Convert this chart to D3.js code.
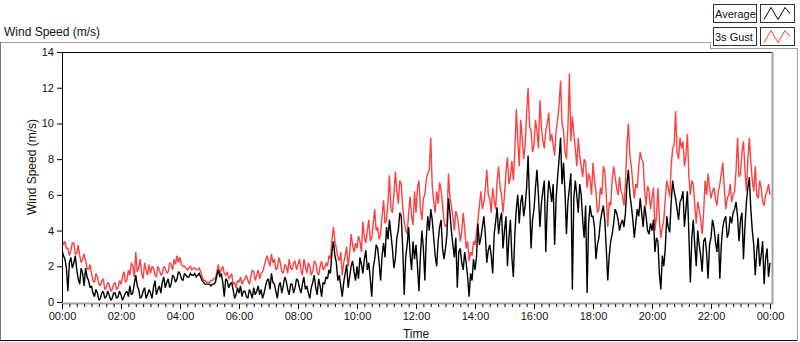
<!DOCTYPE html>
<html>
<head>
<meta charset="utf-8">
<title>Wind Speed (m/s)</title>
<script src="https://d3js.org/d3.v7.min.js"></script>
<style>
body { margin: 0; background: #fff; }
text { font-family: 'Liberation Sans', Arial, sans-serif; fill: #111; }
.tick text { font-size: 11px; }
</style>
</head>
<body>
<div id="my_dataviz"></div>
<script>
// one reading every 3 minutes, 00:00 -> 24:00 (20 per hour, one row per hour)
var stepMinutes = 3;

var average = [
  2.9, 2.6, 2.4, 1.9, 0.6, 2.2, 2.5, 1.9, 2.2, 2.6, 1.8, 1.3, 1.0, 1.9, 1.6, 0.9, 1.9, 1.4, 1.2, 0.8,
  0.9, 0.5, 0.3, 0.7, 0.5, 0.1, 0.2, 0.5, 0.6, 0.2, 0.3, 0.6, 0.4, 0.1, 0.2, 0.5, 0.5, 0.2, 0.3, 0.6,
  0.4, 0.1, 0.3, 0.5, 0.6, 0.3, 0.9, 0.4, 0.5, 1.0, 1.5, 0.9, 0.7, 0.2, 0.3, 0.6, 0.8, 0.2, 0.4, 0.7,
  0.5, 0.2, 0.8, 1.2, 0.4, 0.7, 0.9, 0.5, 1.1, 1.4, 0.8, 1.1, 1.3, 0.8, 1.0, 1.5, 1.4, 1.1, 1.3, 1.7,
  1.6, 1.3, 1.2, 1.6, 1.5, 1.4, 1.4, 1.6, 1.5, 1.5, 1.6, 1.4, 1.5, 1.6, 1.4, 1.2, 1.1, 1.0, 1.0, 1.0,
  1.0, 0.9, 1.0, 1.0, 1.1, 1.5, 1.8, 1.4, 1.6, 1.1, 0.3, 1.3, 1.2, 0.8, 1.0, 1.1, 0.7, 0.2, 0.4, 0.8,
  0.5, 0.9, 0.3, 0.6, 0.6, 0.3, 0.2, 0.7, 0.5, 0.2, 0.8, 0.4, 0.6, 0.9, 0.4, 0.7, 0.2, 0.5, 0.9, 1.2,
  1.3, 0.7, 1.6, 1.1, 1.0, 0.6, 0.2, 0.9, 1.1, 0.5, 0.9, 1.4, 1.2, 0.7, 0.4, 1.0, 1.0, 0.5, 0.8, 1.3,
  1.2, 0.8, 0.5, 1.0, 1.4, 0.7, 0.9, 0.5, 0.2, 0.8, 1.1, 1.5, 0.8, 0.4, 1.3, 0.9, 0.3, 1.1, 1.0, 1.4,
  1.3, 1.8, 1.6, 2.8, 3.4, 2.6, 2.2, 1.2, 1.5, 0.9, 0.3, 1.1, 1.6, 2.1, 0.8, 1.4, 2.0, 2.3, 1.7, 1.2,
  2.0, 1.3, 2.5, 2.1, 1.6, 2.4, 2.9, 1.8, 2.2, 1.3, 0.3, 1.9, 2.4, 3.2, 3.0, 2.2, 1.2, 2.6, 3.3, 2.5,
  4.2, 3.5, 4.6, 3.8, 3.0, 1.9, 2.4, 3.6, 4.0, 5.0, 4.8, 3.0, 0.4, 2.5, 3.2, 4.2, 2.7, 1.8, 3.4, 2.4,
  3.2, 2.0, 0.6, 2.6, 4.0, 3.0, 1.2, 3.6, 4.8, 4.0, 5.2, 4.6, 3.6, 2.6, 2.0, 3.4, 4.2, 4.6, 3.0, 2.4,
  3.0, 3.8, 5.8, 5.0, 4.0, 3.2, 2.5, 3.6, 0.8, 2.8, 3.0, 2.2, 1.8, 2.8, 2.2, 1.4, 0.3, 1.6, 1.2, 2.4,
  1.8, 2.5, 4.4, 3.2, 3.6, 4.2, 4.8, 3.8, 2.2, 2.9, 3.2, 2.6, 1.6, 3.8, 4.5, 5.3, 3.8, 4.6, 5.0, 3.0,
  4.0, 4.8, 2.0, 3.6, 4.6, 2.5, 1.4, 3.8, 5.2, 6.0, 4.4, 5.6, 6.0, 4.8, 5.4, 6.4, 8.2, 5.6, 3.0, 4.6,
  5.2, 6.4, 7.4, 6.0, 4.2, 5.5, 6.2, 6.8, 2.8, 5.4, 6.8, 6.3, 5.6, 6.6, 3.2, 5.8, 7.0, 8.0, 9.2, 6.6,
  7.8, 6.2, 3.8, 5.6, 6.4, 7.2, 0.7, 5.8, 6.8, 6.0, 5.0, 6.6, 6.0, 4.6, 3.6, 5.4, 0.5, 4.4, 5.4, 4.8,
  4.8, 4.2, 2.4, 3.2, 3.6, 4.5, 5.0, 5.4, 4.6, 3.0, 1.2, 2.6, 3.4, 3.8, 4.4, 5.2, 5.0, 4.6, 4.0, 4.4,
  4.6, 4.2, 5.0, 6.6, 7.4, 6.0, 5.4, 4.6, 3.6, 4.4, 5.2, 4.8, 5.8, 5.0, 4.2, 5.4, 4.8, 4.0, 3.8, 4.4,
  4.0, 4.6, 2.8, 3.6, 3.4, 1.6, 0.7, 2.6, 2.0, 3.0, 4.8, 4.2, 3.9, 5.6, 6.8, 6.2, 5.8, 5.2, 4.6, 5.6,
  5.8, 6.2, 4.2, 5.2, 6.2, 3.8, 1.1, 3.6, 4.6, 3.2, 2.0, 4.0, 3.2, 2.6, 1.7, 3.4, 3.6, 2.8, 1.3, 3.2,
  3.6, 4.6, 4.2, 3.4, 2.8, 3.8, 1.3, 3.2, 4.2, 4.6, 4.8, 3.6, 3.9, 4.8, 4.4, 5.0, 5.2, 5.6, 4.8, 3.4,
  4.6, 5.0, 2.4, 4.2, 5.6, 6.4, 7.0, 5.2, 4.0, 3.2, 1.5, 2.8, 3.6, 2.0, 2.6, 3.4, 1.0, 2.4, 3.0, 1.4,
  2.2
];

var gust = [
  3.5, 3.2, 3.4, 3.0, 3.0, 2.6, 2.9, 3.3, 3.3, 2.7, 2.7, 3.2, 2.6, 2.2, 2.4, 2.7, 2.3, 1.9, 1.8, 2.1,
  1.6, 1.2, 1.1, 1.6, 1.4, 1.0, 0.9, 1.2, 1.3, 0.7, 0.8, 1.1, 1.0, 0.6, 0.7, 1.0, 1.1, 0.7, 0.8, 1.2,
  1.0, 1.4, 1.7, 1.1, 1.2, 1.8, 1.5, 2.2, 2.0, 1.4, 2.8, 1.7, 1.9, 2.4, 1.6, 1.3, 2.2, 1.8, 1.5, 2.1,
  1.6, 2.0, 1.9, 1.5, 1.4, 2.0, 1.8, 1.5, 1.6, 2.0, 1.9, 1.6, 1.7, 2.2, 2.1, 1.8, 2.4, 2.1, 2.6, 2.2,
  2.5, 2.1, 2.0, 2.0, 1.9, 1.8, 1.9, 2.0, 1.8, 1.9, 1.9, 1.8, 1.8, 1.9, 1.7, 1.4, 1.2, 1.2, 1.1, 1.1,
  1.1, 1.2, 1.2, 1.3, 1.3, 1.7, 2.1, 1.6, 1.8, 2.0, 1.6, 1.5, 1.7, 1.3, 1.4, 1.6, 1.0, 1.1, 0.8, 1.2,
  1.1, 1.4, 1.0, 1.2, 1.3, 1.5, 1.2, 1.0, 1.4, 1.8, 1.7, 1.2, 1.5, 1.8, 1.3, 1.6, 1.7, 2.0, 2.3, 2.6,
  2.3, 2.0, 2.7, 2.2, 2.4, 1.8, 1.9, 2.5, 2.2, 1.7, 1.6, 2.1, 2.0, 1.6, 2.4, 1.9, 1.8, 2.2, 2.3, 1.8,
  2.1, 2.4, 1.8, 1.5, 2.4, 2.0, 1.6, 2.2, 2.0, 1.5, 1.7, 2.3, 2.2, 1.7, 1.5, 2.0, 2.3, 1.8, 1.9, 2.2,
  2.0, 2.6, 2.4, 3.5, 4.2, 3.4, 3.0, 2.5, 2.3, 2.8, 1.5, 2.2, 2.6, 3.1, 2.0, 2.7, 3.8, 3.2, 2.8, 3.3,
  3.0, 3.7, 3.4, 2.8, 4.5, 3.6, 3.3, 4.0, 4.6, 3.4, 3.6, 4.4, 5.2, 4.0, 4.2, 3.5, 3.8, 4.8, 5.7, 4.4,
  4.6, 5.6, 7.1, 5.2, 5.0, 6.0, 7.3, 6.2, 5.5, 6.8, 6.6, 5.3, 4.5, 4.0, 3.8, 5.0, 5.9, 4.8, 4.3, 6.2,
  5.0, 6.4, 6.8, 5.2, 4.6, 5.8, 6.0, 6.9, 7.2, 7.4, 9.2, 6.5, 5.6, 5.0, 6.2, 5.5, 6.7, 6.3, 5.4, 4.5,
  4.2, 4.4, 7.2, 5.8, 5.4, 4.8, 4.0, 5.1, 4.8, 4.2, 3.4, 3.9, 5.0, 4.1, 3.0, 3.4, 2.3, 2.8, 2.6, 3.4,
  3.2, 3.9, 4.6, 5.4, 6.2, 5.2, 5.6, 6.3, 7.4, 6.0, 5.8, 5.0, 6.4, 5.7, 5.2, 6.8, 7.6, 6.4, 6.0, 5.0,
  6.0, 7.3, 8.1, 6.6, 7.0, 7.9, 6.8, 8.4, 10.8, 9.0, 7.6, 10.2, 9.2, 8.0, 8.8, 10.6, 12.0, 9.8, 9.6, 8.4,
  8.8, 10.2, 9.6, 8.6, 11.3, 9.8, 9.0, 8.6, 9.6, 10.0, 10.6, 9.0, 9.4, 8.8, 8.2, 9.6, 10.2, 11.0, 12.4, 10.0,
  9.6, 8.4, 8.0, 9.8, 12.8, 9.0, 10.4, 9.4, 8.6, 7.6, 9.2, 8.2, 7.6, 7.0, 8.0, 7.8, 6.4, 7.2, 6.9, 6.0,
  7.8, 6.8, 6.2, 5.0, 5.2, 6.4, 6.0, 7.6, 7.3, 6.0, 4.2, 5.6, 5.4, 6.8, 7.6, 7.0, 6.4, 6.0, 7.0, 6.2,
  6.0, 5.4, 6.6, 8.8, 10.0, 8.2, 7.6, 6.6, 5.8, 6.6, 6.4, 7.6, 8.4, 8.0, 7.8, 6.2, 5.4, 6.5, 6.2, 5.2,
  5.8, 6.4, 4.0, 4.8, 6.4, 4.6, 3.6, 4.2, 4.6, 5.8, 6.8, 6.4, 5.9, 7.6, 8.6, 8.8, 10.7, 8.4, 8.0, 9.2,
  8.6, 9.0, 7.6, 8.2, 9.4, 7.0, 6.0, 6.8, 6.6, 5.4, 4.4, 5.6, 5.2, 4.6, 3.8, 5.0, 6.8, 6.0, 7.2, 6.4,
  5.8, 6.2, 6.4, 5.8, 5.4, 6.2, 6.6, 7.2, 7.8, 6.4, 5.2, 5.8, 6.0, 6.6, 5.6, 6.0, 6.2, 7.4, 9.2, 7.0,
  7.2, 8.4, 9.0, 7.4, 6.2, 8.0, 9.2, 7.8, 6.8, 6.2, 7.6, 6.0, 5.8, 6.8, 6.4, 5.6, 5.4, 6.0, 6.2, 6.6,
  6.0
];

var yTicks = [0, 2, 4, 6, 8, 10, 12, 14];
var seriesNames = ["Average", "3s Gust"];
var seriesColors = ["#000000", "#ff4040"];

var width = 800, height = 342;
var plot = {left: 62, right: 770, top: 52, bottom: 302};

var svg = d3.select("#my_dataviz")
  .append("svg")
  .attr("width", width)
  .attr("height", height);

// outer panel
svg.append("line").attr("x1", 0).attr("x2", 797).attr("y1", 42.5).attr("y2", 42.5).style("stroke", "#a0a0a0");
svg.append("line").attr("x1", 0.5).attr("x2", 0.5).attr("y1", 42).attr("y2", 341).style("stroke", "#777");
svg.append("line").attr("x1", 0).attr("x2", 798).attr("y1", 340.5).attr("y2", 340.5).style("stroke", "#111");
svg.append("line").attr("x1", 797.5).attr("x2", 797.5).attr("y1", 0).attr("y2", 341).style("stroke", "#a0a0a0");

svg.append("text")
  .attr("x", 4).attr("y", 36)
  .style("font-size", "12px")
  .text("Wind Speed (m/s)");

// scales
var x = d3.scaleLinear().domain([0, 1440]).range([plot.left, plot.right]);
var y = d3.scaleLinear().domain([0, 14]).range([plot.bottom, plot.top]);

// plot area
svg.append("rect")
  .attr("x", plot.left).attr("y", plot.top)
  .attr("width", 772 - plot.left).attr("height", plot.bottom - plot.top + 1)
  .style("fill", "#fff");

svg.append("clipPath").attr("id", "clip")
  .append("rect")
  .attr("x", plot.left + 1).attr("y", plot.top + 1)
  .attr("width", 772 - plot.left - 1).attr("height", plot.bottom - plot.top);

var line = d3.line()
  .x(function(d, i) { return x(i * stepMinutes); })
  .y(function(d) { return y(d); });

// gust first, average drawn on top
var g = svg.append("g").attr("clip-path", "url(#clip)");
[[gust, seriesColors[1]], [average, seriesColors[0]]].forEach(function(s) {
  g.append("path")
    .datum(s[0])
    .attr("d", line)
    .style("fill", "none")
    .style("stroke", s[1])
    .style("stroke-width", 1.4)
    .style("stroke-linejoin", "miter")
    .style("stroke-miterlimit", 2);
});

// frame: dark top/left, grey bottom/right
svg.append("line").attr("x1", plot.left).attr("x2", 772).attr("y1", plot.top + 0.5).attr("y2", plot.top + 0.5).style("stroke", "#000");
svg.append("line").attr("x1", plot.left + 0.5).attr("x2", plot.left + 0.5).attr("y1", plot.top).attr("y2", plot.bottom + 1).style("stroke", "#000");
svg.append("line").attr("x1", plot.left).attr("x2", 773).attr("y1", plot.bottom + 1.5).attr("y2", plot.bottom + 1.5).style("stroke", "#a0a0a0").style("stroke-width", 2);
svg.append("line").attr("x1", 772.5).attr("x2", 772.5).attr("y1", plot.top).attr("y2", plot.bottom + 2).style("stroke", "#a0a0a0").style("stroke-width", 2);

// y axis
var yAxis = svg.append("g")
  .attr("transform", "translate(" + plot.left + ",0)")
  .call(d3.axisLeft(y).tickValues(yTicks).tickSize(5).tickPadding(3).tickFormat(d3.format("d")));
yAxis.select(".domain").remove();

// x axis, minor ticks every 15 min, labelled every 2 h
var minor = svg.append("g")
  .attr("transform", "translate(0," + (plot.bottom + 2) + ")")
  .call(d3.axisBottom(x).tickValues(d3.range(0, 1441, 15)).tickSize(3).tickFormat(""));
minor.select(".domain").remove();

var xAxis = svg.append("g")
  .attr("transform", "translate(0," + (plot.bottom + 2) + ")")
  .call(d3.axisBottom(x).tickValues(d3.range(0, 1441, 120)).tickSize(5).tickPadding(3)
    .tickFormat(function(m) { return d3.format("02d")((m / 60) % 24) + ":00"; }));
xAxis.select(".domain").remove();
svg.selectAll(".tick line").style("stroke", "#000");

svg.append("text")
  .attr("x", (plot.left + plot.right) / 2).attr("y", 338)
  .attr("text-anchor", "middle")
  .style("font-size", "12px")
  .text("Time");

svg.append("text")
  .attr("transform", "translate(36,167) rotate(-90)")
  .attr("text-anchor", "middle")
  .style("font-size", "12px")
  .text("Wind Speed (m/s)");

// legend
svg.append("rect").attr("x", 710).attr("y", 0).attr("width", 88).attr("height", 48).style("fill", "#fff");
svg.append("line").attr("x1", 710).attr("x2", 798).attr("y1", 48.5).attr("y2", 48.5).style("stroke", "#a0a0a0");
svg.append("line").attr("x1", 710.5).attr("x2", 710.5).attr("y1", 42).attr("y2", 49).style("stroke", "#a0a0a0");

var legend = svg.selectAll("myLegend")
  .data(seriesNames)
  .enter()
  .append("g")
  .attr("transform", function(d, i) { return "translate(713," + (4.5 + i * 23) + ")"; });

legend.append("rect")
  .attr("x", 0.5).attr("y", 0).attr("width", 43).attr("height", 18)
  .style("fill", "#fff").style("stroke", "#333");
legend.append("text")
  .attr("x", 2).attr("y", 13.5)
  .style("font-size", "11px")
  .text(function(d) { return d; });
legend.append("rect")
  .attr("x", 47.5).attr("y", 0).attr("width", 34).attr("height", 18)
  .style("fill", "#fff").style("stroke", "#333");
legend.append("path")
  .attr("d", "M51,15 L58,3 L65,15 L72,3 L77,9")
  .style("fill", "none")
  .style("stroke", function(d, i) { return seriesColors[i]; });
</script>
</body>
</html>
